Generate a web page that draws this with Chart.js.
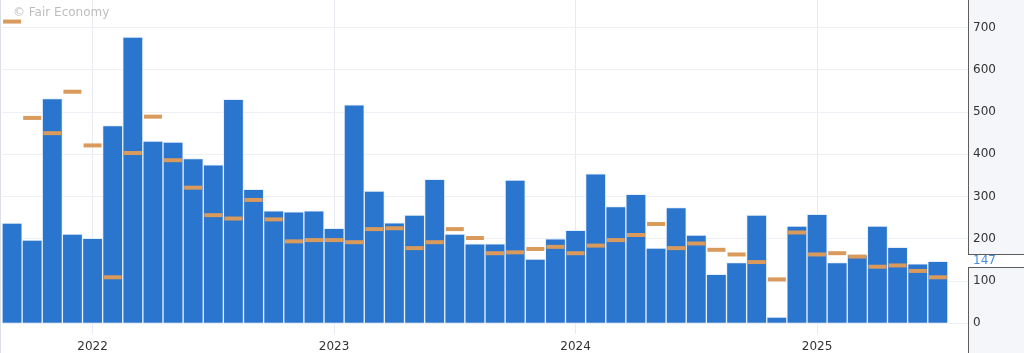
<!DOCTYPE html>
<html>
<head>
<meta charset="utf-8">
<script src="https://cdn.jsdelivr.net/npm/chart.js@4/dist/chart.umd.min.js"></script>
<style>
  html, body { margin: 0; padding: 0; background: #fff; overflow: hidden; }
  #wrap { width: 1024px; height: 353px; position: relative; }
</style>
</head>
<body>
<div id="wrap"><canvas id="barchart" width="1024" height="353"></canvas></div>
<script>
// Monthly releases, Sep 2021 .. Aug 2025 (last slot is still empty)
const months = [
    '2021-09', '2021-10', '2021-11', '2021-12',
    '2022-01', '2022-02', '2022-03', '2022-04', '2022-05', '2022-06', '2022-07', '2022-08', '2022-09', '2022-10', '2022-11', '2022-12',
    '2023-01', '2023-02', '2023-03', '2023-04', '2023-05', '2023-06', '2023-07', '2023-08', '2023-09', '2023-10', '2023-11', '2023-12',
    '2024-01', '2024-02', '2024-03', '2024-04', '2024-05', '2024-06', '2024-07', '2024-08', '2024-09', '2024-10', '2024-11', '2024-12',
    '2025-01', '2025-02', '2025-03', '2025-04', '2025-05', '2025-06', '2025-07', '2025-08'
];

// Actual values (blue bars)
const actual = [
    237, 197, 532, 211,
    201, 468, 677, 431, 429, 390, 375, 530, 317, 266, 264, 266,
    225, 517, 313, 238, 256, 341, 211, 188, 188, 339, 152, 200,
    220, 354, 276, 305, 178, 274, 209, 116, 144, 256, 15, 230,
    258, 144, 162, 230, 180, 141, 147, null
];

// Forecast values (orange dashes)
const forecast = [
    714, 486, 450, 548,
    421, 109, 403, 489, 386, 321, 256, 248, 292, 246, 194, 197,
    197, 192, 223, 225, 178, 192, 223, 202, 166, 168, 176, 181,
    166, 184, 197, 209, 235, 178, 189, 174, 163, 145, 104, 215,
    163, 166, 158, 134, 137, 124, 109, null
];

// Right axis tick labels
const yTicks = [0, 100, 200, 300, 400, 500, 600, 700];

const FONT = '"DejaVu Sans", Verdana, sans-serif';

// Gray panel behind the right axis, watermark and last value tag
const decor = {
    id: 'decor',
    beforeDraw: (chart) => {
        const ctx = chart.ctx;
        const area = chart.chartArea;
        ctx.save();
        ctx.fillStyle = '#f5f6fa';
        ctx.fillRect(area.right, 0, chart.width - area.right, chart.height);
        ctx.strokeStyle = '#dcdfe6';
        ctx.lineWidth = 1;
        ctx.beginPath();
        ctx.moveTo(0.5, 0);
        ctx.lineTo(0.5, chart.height);
        ctx.stroke();
        ctx.restore();
    },
    afterDraw: (chart) => {
        const ctx = chart.ctx;
        const area = chart.chartArea;
        const y = chart.scales.y;
        const x0 = Math.round(area.right) + 0.5;

        // Panel border
        ctx.save();
        ctx.strokeStyle = '#5c5c5c';
        ctx.lineWidth = 1;
        ctx.beginPath();
        ctx.moveTo(x0, 0);
        ctx.lineTo(x0, chart.height);
        ctx.stroke();

        // Last value tag
        let last = actual.length - 1;
        while (actual[last] == null) last--;
        const py = Math.round(y.getPixelForValue(actual[last]));
        ctx.fillStyle = '#ffffff';
        ctx.fillRect(x0 - 0.5, py - 6, chart.width - x0 + 1, 12);
        ctx.beginPath();
        ctx.moveTo(x0, py - 6.5);
        ctx.lineTo(chart.width, py - 6.5);
        ctx.moveTo(x0, py + 6.5);
        ctx.lineTo(chart.width, py + 6.5);
        ctx.stroke();
        ctx.fillStyle = '#4a8de0';
        ctx.font = '12px ' + FONT;
        ctx.textBaseline = 'middle';
        ctx.textAlign = 'left';
        ctx.fillText(String(actual[last]), x0 + 4.5, py);

        // Watermark
        ctx.fillStyle = '#bdbdbd';
        ctx.fillText('\u00a9 Fair Economy', 13, 13);
        ctx.restore();
    }
};

var ctx = document.getElementById('barchart').getContext('2d');
new Chart(ctx, {
    data: {
        labels: months,
        datasets: [{
            type: 'line',
            label: 'Forecast',
            data: forecast,
            showLine: false,
            pointStyle: 'line',
            pointRadius: 9,
            pointHoverRadius: 9,
            pointBorderWidth: 4,
            pointBorderColor: '#d99a5c',
            clip: false,
            order: 0
        }, {
            type: 'bar',
            label: 'Actual',
            data: actual,
            backgroundColor: '#2a75cd',
            borderColor: 'rgba(225,236,250,0.85)',
            borderWidth: 1,
            categoryPercentage: 1,
            barPercentage: 1,
            order: 1
        }]
    },
    options: {
        responsive: false,
        animation: false,
        devicePixelRatio: 1,
        layout: { autoPadding: false, padding: { left: 2, top: 0, right: 0, bottom: 0 } },
        plugins: { legend: { display: false }, tooltip: { enabled: false } },
        scales: {
            x: {
                offset: true,
                grid: {
                    offset: false,
                    drawTicks: false,
                    color: (c) => (months[c.index] || '').endsWith('-01') ? '#e7ebf1' : 'rgba(0,0,0,0)'
                },
                border: { display: false },
                ticks: {
                    autoSkip: false,
                    maxRotation: 0,
                    padding: 6,
                    color: '#333',
                    font: { family: FONT, size: 12 },
                    callback: (v, i) => months[i].endsWith('-01') ? months[i].slice(0, 4) : ''
                },
                afterFit: (s) => { s.height = 19.5; s.paddingLeft = 0; s.paddingRight = 0; }
            },
            y: {
                position: 'right',
                min: -24,
                max: 765,
                afterBuildTicks: (s) => { s.ticks = yTicks.map(v => ({ value: v })); },
                grid: { color: '#eef0f5', drawTicks: false },
                border: { display: false },
                ticks: {
                    padding: 5,
                    color: '#333',
                    font: { family: FONT, size: 12 }
                },
                afterFit: (s) => { s.width = 56; s.paddingTop = 0; s.paddingBottom = 0; }
            }
        }
    },
    plugins: [decor]
});
</script>
</body>
</html>
